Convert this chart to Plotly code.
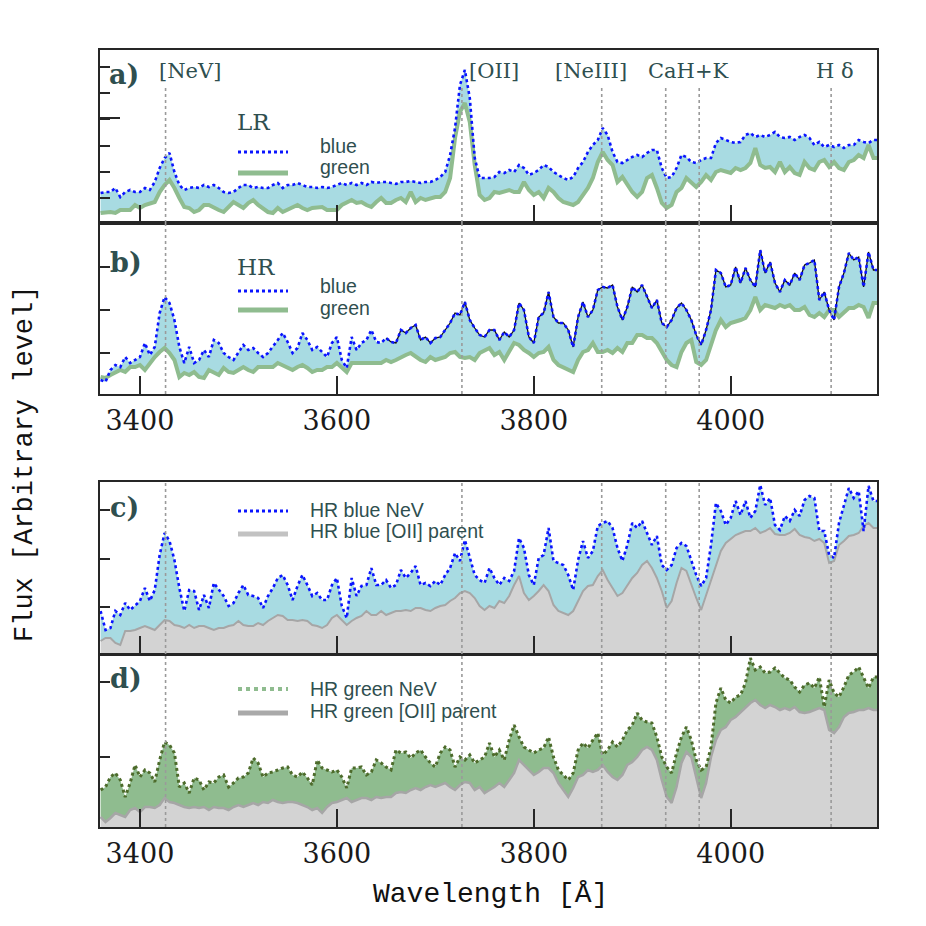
import plotly.graph_objects as go

# ---------------- data (flux in arbitrary units) ----------------
wl = list(range(3360, 4150, 5))  # wavelength grid [Angstrom]

a_blue = [30,31,31,35,26,31,33,31,31,35,
          33,41,55,65,70,51,38,33,35,36,
          35,38,36,38,35,31,30,31,35,38,
          38,35,36,35,35,38,40,35,38,38,
          40,38,36,36,35,36,35,36,38,40,
          38,40,38,40,38,41,40,41,41,40,
          39,41,41,42,41,40,41,41,43,46,
          51,68,95,138,153,125,65,45,45,45,
          46,51,50,53,51,58,55,48,50,53,
          58,56,51,48,45,43,46,55,61,71,
          78,83,95,88,71,61,60,63,66,68,
          66,70,73,73,55,45,46,55,68,66,
          61,60,63,65,65,80,85,83,81,80,
          81,88,90,86,88,86,88,91,86,85,
          86,83,86,88,85,78,81,76,78,76,
          78,75,78,78,83,81,80,83]
a_green = [10,11,11,10,13,13,13,18,15,18,
           20,21,31,38,43,35,25,16,15,11,
           13,18,18,15,13,11,16,21,18,15,
           20,23,18,15,11,10,15,11,13,16,
           18,15,13,15,15,16,13,13,13,18,
           21,23,20,21,18,16,21,25,20,20,
           23,25,21,31,21,25,23,25,26,26,
           31,45,85,111,120,101,58,28,23,25,
           31,30,31,33,31,31,41,33,28,31,
           25,35,31,25,21,20,18,21,28,35,
           45,61,71,63,58,41,46,38,31,26,
           31,45,48,35,20,15,18,31,35,45,
           41,36,41,48,43,51,53,51,50,55,
           53,55,60,75,58,55,56,51,61,51,
           56,50,48,61,55,53,61,63,56,61,
           55,53,61,63,68,65,78,65]
b_blue = [14,12,24,29,27,37,31,34,37,51,
          39,47,81,97,91,74,47,31,47,31,
          34,44,37,54,51,41,37,34,41,49,
          44,46,41,37,41,47,54,61,52,41,
          46,61,54,44,47,42,37,51,57,34,
          26,57,44,51,54,64,52,51,56,52,
          51,64,61,66,69,54,57,51,56,57,
          64,71,81,79,92,74,66,59,57,64,
          64,54,62,57,64,91,84,57,51,77,
          81,102,77,71,71,64,47,77,92,77,
          84,104,107,106,109,87,74,87,107,102,
          109,97,86,94,71,67,74,86,91,84,
          74,59,49,64,84,124,121,107,109,127,
          111,126,114,107,144,121,132,111,102,114,
          109,121,114,129,131,134,94,102,84,74,
          107,121,141,134,137,107,142,124]
b_green = [17,16,19,21,24,22,27,27,29,24,
           31,37,42,46,41,34,17,21,19,22,
           17,16,24,21,19,26,22,21,24,27,
           24,22,27,27,26,27,31,29,27,24,
           27,29,26,22,24,24,27,27,31,26,
           22,31,31,32,31,31,32,31,34,32,
           34,37,39,41,37,34,32,37,34,36,
           37,41,42,37,36,37,34,41,44,46,
           39,42,34,42,51,49,44,41,37,41,
           42,47,34,29,27,24,22,34,42,44,
           51,42,42,44,41,46,42,51,51,59,
           59,56,56,51,42,34,29,27,42,51,
           54,32,29,34,49,64,74,67,71,72,
           74,76,84,97,84,89,87,86,89,87,
           89,84,84,87,79,77,81,77,84,84,
           77,82,86,86,89,87,76,91]
c_blue = [43,24,26,43,39,51,44,49,53,66,
          53,64,99,121,113,94,66,43,64,63,
          44,59,46,71,64,58,48,51,61,69,
          59,58,56,46,58,66,76,79,69,54,
          68,79,69,58,61,54,54,69,76,48,
          36,76,58,68,69,86,69,69,74,66,
          69,84,76,81,88,69,71,68,73,69,
          79,86,101,93,114,96,79,74,71,86,
          76,69,76,73,83,116,106,79,69,96,
          99,126,93,91,89,79,64,94,113,96,
          103,128,131,133,126,106,93,109,131,126,
          133,121,109,118,89,84,89,106,111,108,
          94,79,68,76,109,151,143,129,136,153,
          139,153,136,143,169,149,156,129,124,138,
          133,144,138,154,158,156,123,123,99,96,
          131,149,166,156,163,123,168,153]
c_parent = [13,16,16,11,9,23,23,24,26,28,
            26,24,29,34,33,29,28,26,29,26,
            28,28,26,24,26,26,28,29,33,29,
            28,28,31,29,33,36,39,38,34,34,
            33,34,33,29,28,26,29,36,39,34,
            29,33,36,38,43,39,39,43,39,41,
            43,43,44,43,46,46,44,43,46,48,
            49,53,56,61,63,61,56,48,44,48,
            46,53,51,58,69,78,61,54,58,63,
            69,63,49,43,41,39,43,53,63,68,
            69,78,84,74,66,58,61,69,76,81,
            89,93,86,76,63,46,53,71,86,83,
            69,56,44,59,73,88,103,111,115,119,
            121,123,123,126,121,123,126,120,119,119,
            121,125,119,117,116,113,115,111,91,93,
            109,113,118,119,121,128,131,126]
d_green = [37,40,50,54,47,30,44,62,50,57,
           54,45,67,85,82,74,40,44,34,49,
           47,37,45,44,50,52,40,44,49,50,
           54,69,64,50,54,55,57,59,60,52,
           50,55,49,42,67,59,57,55,57,50,
           39,59,59,60,52,55,67,64,60,57,
           77,74,75,69,74,77,70,64,60,74,
           80,77,60,70,67,72,64,67,70,84,
           70,77,67,87,102,90,80,77,74,77,
           79,90,70,57,52,47,54,77,84,79,
           87,94,72,77,85,80,87,97,102,114,
           107,105,104,90,70,60,54,74,90,100,
           87,67,57,60,80,124,139,127,124,130,
           132,144,169,157,160,154,155,159,154,149,
           147,140,135,142,144,139,150,120,147,134,
           130,140,152,155,160,150,139,150]
d_parent = [10,5,9,14,12,10,17,19,15,20,
            20,19,22,29,25,24,22,20,19,20,
            19,20,17,20,19,19,17,20,22,20,
            22,24,22,25,24,27,25,24,25,25,
            24,22,20,17,19,14,20,24,25,27,
            29,25,27,29,29,27,30,29,30,30,
            34,35,34,37,39,37,40,42,40,42,
            44,40,37,42,45,44,37,40,34,37,
            40,44,40,47,54,67,62,57,52,55,
            59,59,54,44,37,30,39,50,52,57,
            55,57,62,55,50,47,52,62,65,70,
            77,80,77,67,47,30,24,40,64,75,
            70,50,29,44,70,87,97,100,107,110,
            115,119,124,127,122,119,122,120,117,119,
            117,120,115,114,115,117,119,117,97,94,
            100,110,114,115,117,117,119,117]

line_names = ["[NeV]", "[OII]", "[NeIII]", "CaH+K", "H \u03b4"]
line_wl = [3426, 3727, 3869, 3934, 3968, 4102]
xtick_vals = [3400, 3600, 3800, 4000]

# ---------------- styling ----------------
PAGE = 926
OFF = 8            # default page margin of the html body
W = H = PAGE - 2 * OFF
BLUE = "#0a14ff"
LBLUE = "#a8dbe2"
GREEN = "#8fbc8f"
DKGREEN = "#4d6b2b"
LGRAY = "#d3d3d3"
GRAY = "#a6a6a6"
TXT = "#2f4f4f"
AX = "#262626"
XR = [3359.4, 4148.6]

def px(x):
    return (x - OFF) / W

def py(y):
    return 1 - (y - OFF) / H

# panel pixel boxes (top, bottom) in screen pixels
panels = {"a": (50, 223), "b": (223, 394), "c": (482, 654), "d": (655, 827)}

wx = wl + [4150]
def ext(v):
    return v + [v[-1]]

fig = go.Figure()

def tr(x, y, ax, **kw):
    d = dict(x=x, y=y, mode="lines", xaxis="x" + ax, yaxis="y" + ax,
             showlegend=False, hoverinfo="skip")
    d.update(kw)
    fig.add_trace(go.Scatter(**d))

SH = "linear"
# panel a
tr(wx, ext(a_green), "", line=dict(width=0, shape=SH))
tr(wx, ext(a_blue), "", line=dict(width=0, shape=SH), fill="tonexty", fillcolor=LBLUE)
tr(wx, ext(a_green), "", line=dict(width=4, color=GREEN, shape=SH))
tr(wx, ext(a_blue), "", line=dict(width=2.6, color=BLUE, dash="dot", shape=SH))

# panel b
tr(wx, ext(b_green), "2", line=dict(width=0, shape=SH))
tr(wx, ext(b_blue), "2", line=dict(width=0, shape=SH), fill="tonexty", fillcolor=LBLUE)
tr(wx, ext(b_green), "2", line=dict(width=4, color=GREEN, shape=SH))
bx = [w for w in wx if w >= 3650]
bb = [v for w, v in zip(wx, ext(b_blue)) if w >= 3650]
tr(bx, bb, "2", line=dict(width=1.3, color="#111111", shape=SH))
tr(wx, ext(b_blue), "2", line=dict(width=2.6, color=BLUE, dash="dot", shape=SH))

# panel c
tr(wx, ext(c_parent), "3", line=dict(width=0, shape=SH), fill="tozeroy", fillcolor=LGRAY)
tr(wx, ext(c_blue), "3", line=dict(width=0, shape=SH), fill="tonexty", fillcolor=LBLUE)
tr(wx, ext(c_parent), "3", line=dict(width=2, color=GRAY, shape=SH))
tr(wx, ext(c_blue), "3", line=dict(width=2.6, color=BLUE, dash="dot", shape=SH))

# panel d
tr(wx, ext(d_parent), "4", line=dict(width=0, shape=SH), fill="tozeroy", fillcolor=LGRAY)
tr(wx, ext(d_green), "4", line=dict(width=0, shape=SH), fill="tonexty", fillcolor=GREEN)
tr(wx, ext(d_parent), "4", line=dict(width=2.5, color=GRAY, shape=SH))
tr(wx, ext(d_green), "4", line=dict(width=3, color=DKGREEN, dash="dot", shape=SH))

# ---------------- axes ----------------
yticks = {  # (major tick0, major dtick, major len, minor tick0, minor dtick)
    "a": (104.7, 1000, 20, 24.7, 26.3),
    "b": (40.7, 43.3, 10, None, None),
    "c": (46.7, 48.5, 10, None, None),
    "d": (70.3, 74.4, 10, None, None),
}
suffix = {"a": "", "b": "2", "c": "3", "d": "4"}
layout = {}
for k, (top, bot) in panels.items():
    s = suffix[k]
    showlab = k in ("b", "d")
    layout["xaxis" + s] = dict(
        domain=[px(100), px(877)], range=XR, anchor="y" + s,
        tickmode="array", tickvals=xtick_vals, ticks="inside", ticklen=18,
        tickwidth=2, tickcolor=AX, showticklabels=showlab,
        tickfont=dict(family="DejaVu Serif", size=27, color="#1a1a1a"),
        ticklabelstandoff=2,
        showline=True, mirror=True, linewidth=2, linecolor=AX,
        showgrid=False, zeroline=False)
    t0, dt, tl, m0, md = yticks[k]
    ya = dict(
        domain=[py(bot), py(top)], range=[0, bot - top], anchor="x" + s,
        tickmode="linear", tick0=t0, dtick=dt, ticks="inside", ticklen=tl,
        tickwidth=2, tickcolor=AX, showticklabels=False,
        showline=True, mirror=True, linewidth=2, linecolor=AX,
        showgrid=False, zeroline=False)
    if m0 is not None:
        ya["minor"] = dict(tickmode="linear", tick0=m0, dtick=md, ticks="inside",
                           ticklen=10, tickwidth=2, tickcolor=AX, showgrid=False)
    layout["yaxis" + s] = ya

shapes = []
for w in line_wl:
    shapes.append(dict(type="line", xref="x", yref="y", x0=w, x1=w, y0=0, y1=135,
                       line=dict(color="#9a9a9a", width=1.6, dash="dot"), layer="above"))
    for s in ("2", "3", "4"):
        shapes.append(dict(type="line", xref="x" + s, yref="y" + s + " domain", x0=w, x1=w,
                           y0=0, y1=1, line=dict(color="#9a9a9a", width=1.6, dash="dot"),
                           layer="above"))

def leg_line(y, color, width, dash="solid"):
    shapes.append(dict(type="line", xref="paper", yref="paper", x0=px(238), x1=px(288),
                       y0=py(y), y1=py(y), line=dict(color=color, width=width, dash=dash)))

leg_line(152, BLUE, 3, "dot"); leg_line(173, GREEN, 5)
leg_line(291, BLUE, 3, "dot"); leg_line(310, GREEN, 5)
leg_line(511, BLUE, 3, "dot"); leg_line(534, "#c2c2c2", 5)
leg_line(689, GREEN, 4, "dot"); leg_line(713, "#a9a9a9", 5)

ann = []
def text(x, y, s, size, family, color=TXT, xanchor="center", weight="normal", angle=0):
    ann.append(dict(xref="paper", yref="paper", x=px(x), y=py(y), text=s, showarrow=False,
                    xanchor=xanchor, yanchor="middle", textangle=angle,
                    font=dict(family=family, size=size, color=color, weight=weight)))

# line labels along the top of panel a
for name, cx in zip(line_names, [190, 494, 591, 688, 835]):
    text(cx, 71, name, 21, "DejaVu Serif")

# panel letters
text(124, 75, "a)", 27, "DejaVu Serif", weight="bold")
text(126, 262, "b)", 27, "DejaVu Serif", weight="bold")
text(125, 507, "c)", 27, "DejaVu Serif", weight="bold")
text(126, 678, "d)", 27, "DejaVu Serif", weight="bold")

# legends
text(254, 122, "LR", 23, "DejaVu Serif")
text(318, 146, "blue", 19.5, "Liberation Sans", xanchor="left")
text(318, 167, "green", 19.5, "Liberation Sans", xanchor="left")
text(256, 267, "HR", 23, "DejaVu Serif")
text(318, 286, "blue", 19.5, "Liberation Sans", xanchor="left")
text(318, 308, "green", 19.5, "Liberation Sans", xanchor="left")
text(308, 510, "HR blue NeV", 19.5, "Liberation Sans", xanchor="left")
text(308, 531, "HR blue [OII] parent", 19.5, "Liberation Sans", xanchor="left")
text(308, 689, "HR green NeV", 19.5, "Liberation Sans", xanchor="left")
text(308, 711, "HR green [OII] parent", 19.5, "Liberation Sans", xanchor="left")

# axis titles
text(490, 894, "Wavelength [\u00c5]", 28, "Liberation Mono", color="#111111")
text(25, 464, "Flux [Arbitrary level]", 27, "Liberation Mono", color="#111111", angle=-90)

fig.update_layout(width=W, height=H, margin=dict(l=0, r=0, t=0, b=0),
                  paper_bgcolor="white", plot_bgcolor="white",
                  shapes=shapes, annotations=ann, **layout)
fig.write_html("out.html")
